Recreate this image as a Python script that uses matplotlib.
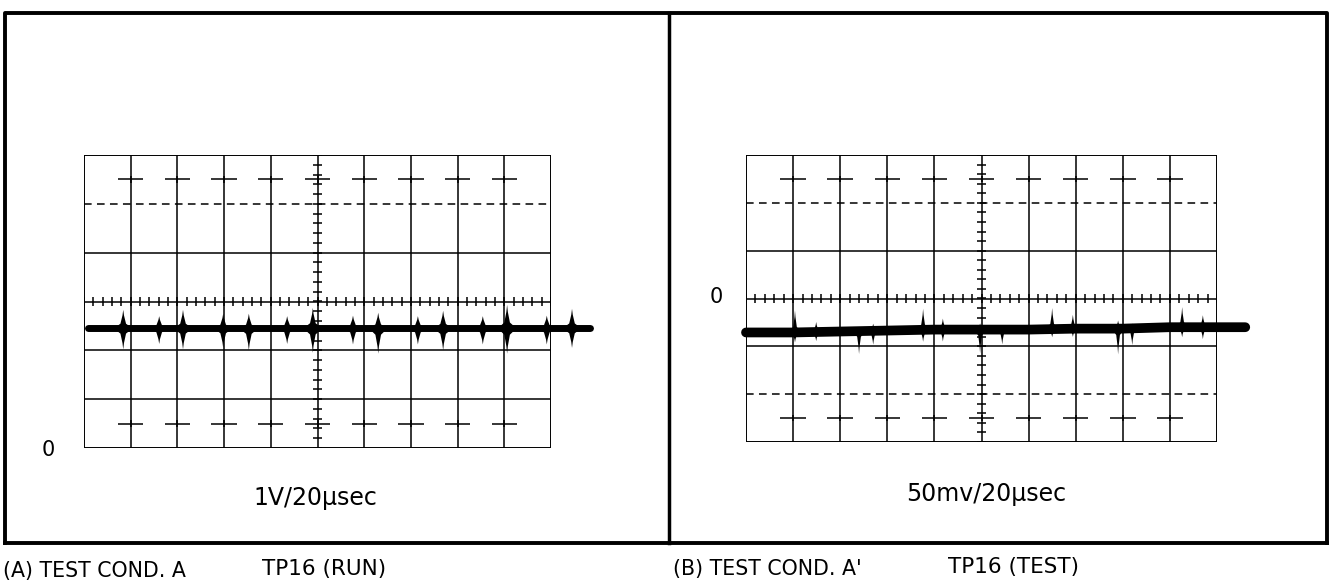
import numpy as np
import matplotlib.pyplot as plt

# trace A (1V/20usec), in graticule divisions
trace_a_x = [0.09, 10.83]
trace_a_y = [-0.55, -0.55]
spike_a_x = [0.84, 1.61, 2.12, 2.98, 3.53, 4.35, 4.90, 5.76, 6.30, 7.15, 7.69, 8.54, 9.06, 9.91, 10.45]
spike_a_up = [0.38, 0.25, 0.38, 0.30, 0.30, 0.25, 0.42, 0.26, 0.32, 0.25, 0.36, 0.25, 0.48, 0.26, 0.40]
spike_a_dn = [0.43, 0.32, 0.43, 0.40, 0.45, 0.32, 0.50, 0.33, 0.52, 0.33, 0.45, 0.33, 0.52, 0.33, 0.40]

# trace B (50mv/20usec)
trace_b_x = [0.0, 1.0, 2.0, 3.0, 4.0, 5.0, 6.0, 7.0, 8.0, 9.0, 10.0, 10.6]
trace_b_y = [-0.71, -0.71, -0.69, -0.67, -0.65, -0.65, -0.65, -0.63, -0.63, -0.60, -0.60, -0.60]
spike_b_x = [1.04, 1.49, 2.40, 2.70, 3.76, 4.18, 4.97, 5.44, 6.50, 6.94, 7.90, 8.20, 9.26, 9.70]
spike_b_up = [0.46, 0.21, 0.08, 0.15, 0.44, 0.23, 0.13, 0.08, 0.44, 0.29, 0.17, 0.10, 0.42, 0.25]
spike_b_dn = [0.21, 0.19, 0.48, 0.29, 0.25, 0.25, 0.50, 0.31, 0.17, 0.17, 0.54, 0.35, 0.21, 0.25]

W, H = 1336, 584
fig = plt.figure(figsize=(W / 100, H / 100), dpi=100)
fig.patch.set_facecolor('white')

bg = fig.add_axes([0, 0, 1, 1])
bg.set_xlim(0, W)
bg.set_ylim(H, 0)
bg.axis('off')

# outer frame and divider
bg.plot([5, 5, 1327, 1327], [543, 13, 13, 543], color='black', lw=2.8, solid_joinstyle='round')
bg.plot([5, 1327], [543, 543], color='black', lw=2.8)
bg.plot([669, 669], [13, 543], color='black', lw=2.5)

font = ['DejaVu Sans']
bg.text(3, 571, "(A) TEST COND. A", fontsize=14.8, family=font, va='center', ha='left')
bg.text(262, 569, "TP16 (RUN)", fontsize=15.5, family=font, va='center', ha='left')
bg.text(673, 569, "(B) TEST COND. A'", fontsize=14.8, family=font, va='center', ha='left')
bg.text(948, 567, "TP16 (TEST)", fontsize=15.5, family=font, va='center', ha='left')
bg.text(315, 498, "1V/20\u00b5sec", fontsize=17, family=font, va='center', ha='center')
bg.text(986, 494, "50mv/20\u00b5sec", fontsize=17, family=font, va='center', ha='center')
bg.text(48, 450, "0", fontsize=15, family=font, va='center', ha='center')
bg.text(716, 297, "0", fontsize=15, family=font, va='center', ha='center')


def graticule(box, lower_dashed):
    x0, y0, x1, y1 = box
    ax = fig.add_axes([x0 / W, 1 - y1 / H, (x1 - x0) / W, (y1 - y0) / H])
    ax.set_xlim(0, 10)
    ax.set_ylim(-3, 3)
    ax.axis('off')
    ax.patch.set_alpha(0)
    for x in range(11):
        ax.axvline(x, color='black', lw=1.4 if x in (0, 10) else 1.1)
    for y in (-3, -1, 0, 1, 3):
        ax.axhline(y, color='black', lw=1.4 if y in (-3, 3) else 1.1)
    ax.axhline(2, color='black', lw=1.1, ls=(0, (5, 3.5)))
    ax.axhline(-2, color='black', lw=1.1, ls=(0, (5, 3.5)) if lower_dashed else '-')
    # minor ticks on centre axes
    ticks_x = np.arange(0, 10.01, 0.2)
    ax.vlines(ticks_x, -0.09, 0.09, color='black', lw=1.1)
    ticks_y = np.arange(-3, 3.01, 0.2)
    ax.hlines(ticks_y, 4.91, 5.09, color='black', lw=1.1)
    # dash marks at +/-2.5 div
    cols = np.arange(1, 10)
    for yy in (2.5, -2.5):
        ax.hlines(np.full(cols.size, yy), cols - 0.27, cols + 0.27, color='black', lw=1.1)
        ax.vlines(cols, yy - 0.07, yy + 0.07, color='black', lw=1.1)
    return ax


def spikes(ax, xs, base_x, base_y, up, dn, w):
    for x, u, d in zip(xs, up, dn):
        b = np.interp(x, base_x, base_y)
        for h in (u, -d):
            px = [x - w, x - 0.3 * w, x - 0.08 * w, x, x + 0.08 * w, x + 0.3 * w, x + w]
            py = [b, b + 0.25 * h, b + 0.7 * h, b + h, b + 0.7 * h, b + 0.25 * h, b]
            ax.fill(px, py, color='black', lw=0, clip_on=False)


ax_a = graticule((84, 155, 551, 448), lower_dashed=False)
ax_a.plot(trace_a_x, trace_a_y, color='black', lw=5.0, solid_capstyle='round', clip_on=False)
spikes(ax_a, spike_a_x, trace_a_x, trace_a_y, spike_a_up, spike_a_dn, 0.2)

ax_b = graticule((746, 155, 1217, 442), lower_dashed=True)
ax_b.plot(trace_b_x, trace_b_y, color='black', lw=7.0, solid_capstyle='round', clip_on=False)
spikes(ax_b, spike_b_x, trace_b_x, trace_b_y, spike_b_up, spike_b_dn, 0.13)

fig.savefig('out.png', dpi=100, facecolor='white')
